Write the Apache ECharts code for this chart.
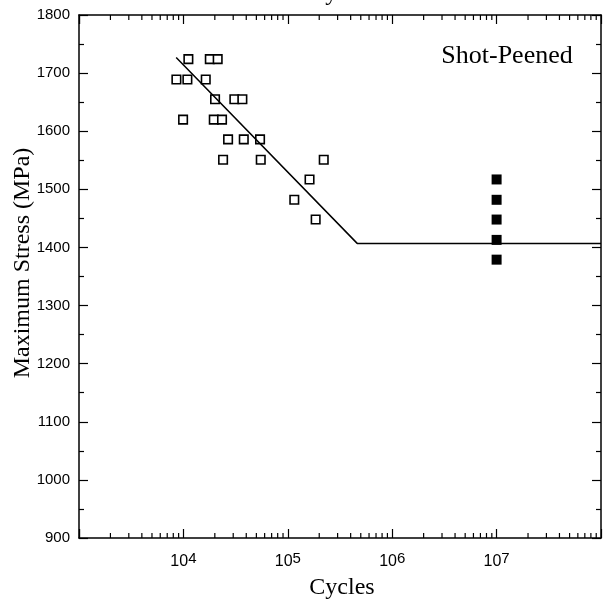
<!DOCTYPE html>
<html>
<head>
<meta charset="utf-8">
<script src="https://cdn.jsdelivr.net/npm/echarts@6/dist/echarts.min.js"></script>
<style>html,body{margin:0;padding:0;background:#fff}#c{width:604px;height:599px}</style>
</head>
<body>
<div id="c"></div>
<script>
// Open squares: test data [cycles, max stress MPa]
const openCycles = [8570, 10920, 11160, 9930, 16370, 17900, 21300, 20100, 19540, 23440, 30770, 36720, 26790, 37870, 54220, 23990, 55070, 220900, 161500, 115400, 184900];
const openStress = [1689, 1689, 1724, 1620, 1689, 1724, 1724, 1655, 1620, 1620, 1655, 1655, 1586, 1586, 1586, 1551, 1551, 1551, 1517, 1482, 1448];
// Filled squares: run-outs at 1e7
const runoutCycles = [1e7, 1e7, 1e7, 1e7, 1e7];
const runoutStress = [1517, 1482, 1448, 1413, 1379];
// S-N fit line
const fitCycles = [8530, 462000, 1e8];
const fitStress = [1727, 1407, 1407];
// axis
const xMin = 1e3, xMax = 1e8;
const yMin = 900, yMax = 1800;
const xMinorTicks = [];
[1e3, 1e4, 1e5, 1e6, 1e7].forEach(d => { [2,3,4,5,6,7,8,9].forEach(k => xMinorTicks.push(k * d)); });
const xLabels = {"10000": "4", "100000": "5", "1000000": "6", "10000000": "7"};

const zip = (a, b) => a.map((v, i) => [v, b[i]]);
const chart = echarts.init(document.getElementById('c'));
const axisLine = {show: true, lineStyle: {color: '#000', width: 1.5}};
const sans = 'Liberation Sans, Arial, sans-serif';
const serif = 'Liberation Serif, Times New Roman, serif';

chart.setOption({
  animation: false,
  grid: {left: 79, right: 2, top: 15, bottom: 61},
  xAxis: [{
    type: 'log', logBase: 10, min: xMin, max: xMax, position: 'bottom',
    axisLine, splitLine: {show: false},
    axisTick: {inside: true, length: 9, lineStyle: {color: '#000', width: 1.2}},
    axisLabel: {
      margin: 13, color: '#000', fontFamily: sans, fontSize: 15,
      formatter: v => { const e = xLabels[String(Math.round(v))]; return e ? '{b|10}{s|' + e + '}' : ''; },
      rich: {b: {fontFamily: sans, fontSize: 16, color: '#000'}, s: {fontFamily: sans, fontSize: 15, color: '#000', padding: [0, 0, 7, 0]}}
    }
  }, {
    type: 'log', logBase: 10, min: xMin, max: xMax, position: 'top',
    axisLine, splitLine: {show: false},
    axisTick: {inside: true, length: 9, lineStyle: {color: '#000', width: 1.2}},
    axisLabel: {show: false}
  }],
  yAxis: [{
    type: 'value', min: yMin, max: yMax, interval: 100, position: 'left',
    axisLine, splitLine: {show: false},
    axisTick: {show: true, inside: true, length: 9, lineStyle: {color: '#000', width: 1.2}},
    minorTick: {show: true, splitNumber: 2, length: 5, lineStyle: {color: '#000', width: 1.2}},
    axisLabel: {margin: 9, color: '#000', fontFamily: sans, fontSize: 15, formatter: v => String(v)}
  }, {
    type: 'value', min: yMin, max: yMax, interval: 100, position: 'right',
    axisLine, splitLine: {show: false},
    axisTick: {show: true, inside: true, length: 9, lineStyle: {color: '#000', width: 1.2}},
    minorTick: {show: true, splitNumber: 2, length: 5, lineStyle: {color: '#000', width: 1.2}},
    axisLabel: {show: false}
  }],
  graphic: [
    {type: 'text', x: 23, y: 263, rotation: Math.PI / 2, style: {text: 'Maximum Stress (MPa)', font: '24px ' + serif, fill: '#000', align: 'center', verticalAlign: 'middle'}},
    {type: 'text', x: 342, y: 588, style: {text: 'Cycles', font: '24px ' + serif, fill: '#000', align: 'center', verticalAlign: 'middle'}},
    {type: 'text', x: 342, y: -6, style: {text: 'Cycles', font: '24px ' + serif, fill: '#000', align: 'center', verticalAlign: 'middle'}},
    {type: 'text', x: 507, y: 56, style: {text: 'Shot-Peened', font: '26px ' + serif, fill: '#000', align: 'center', verticalAlign: 'middle'}}
  ],
  series: [
    {
      type: 'custom', xAxisIndex: 0, yAxisIndex: 0, silent: true, clip: false,
      data: xMinorTicks.map(v => [v, yMin]),
      renderItem: (params, api) => {
        const v = api.value(0);
        const b = api.coord([v, yMin]);
        const t = api.coord([v, yMax]);
        const st = {stroke: '#000', lineWidth: 1.2};
        return {type: 'group', children: [
          {type: 'line', shape: {x1: b[0], y1: b[1], x2: b[0], y2: b[1] - 5}, style: st},
          {type: 'line', shape: {x1: t[0], y1: t[1], x2: t[0], y2: t[1] + 5}, style: st}
        ]};
      }
    },
    {
      type: 'line', data: zip(fitCycles, fitStress), symbol: 'none',
      lineStyle: {color: '#000', width: 1.5}
    },
    {
      type: 'scatter', data: zip(openCycles, openStress), symbol: 'rect', symbolSize: 8.5,
      itemStyle: {color: '#fff', borderColor: '#000', borderWidth: 1.6, opacity: 1}
    },
    {
      type: 'scatter', data: zip(runoutCycles, runoutStress), symbol: 'rect', symbolSize: 10,
      itemStyle: {color: '#000', opacity: 1}
    }
  ]
});
</script>
</body>
</html>
